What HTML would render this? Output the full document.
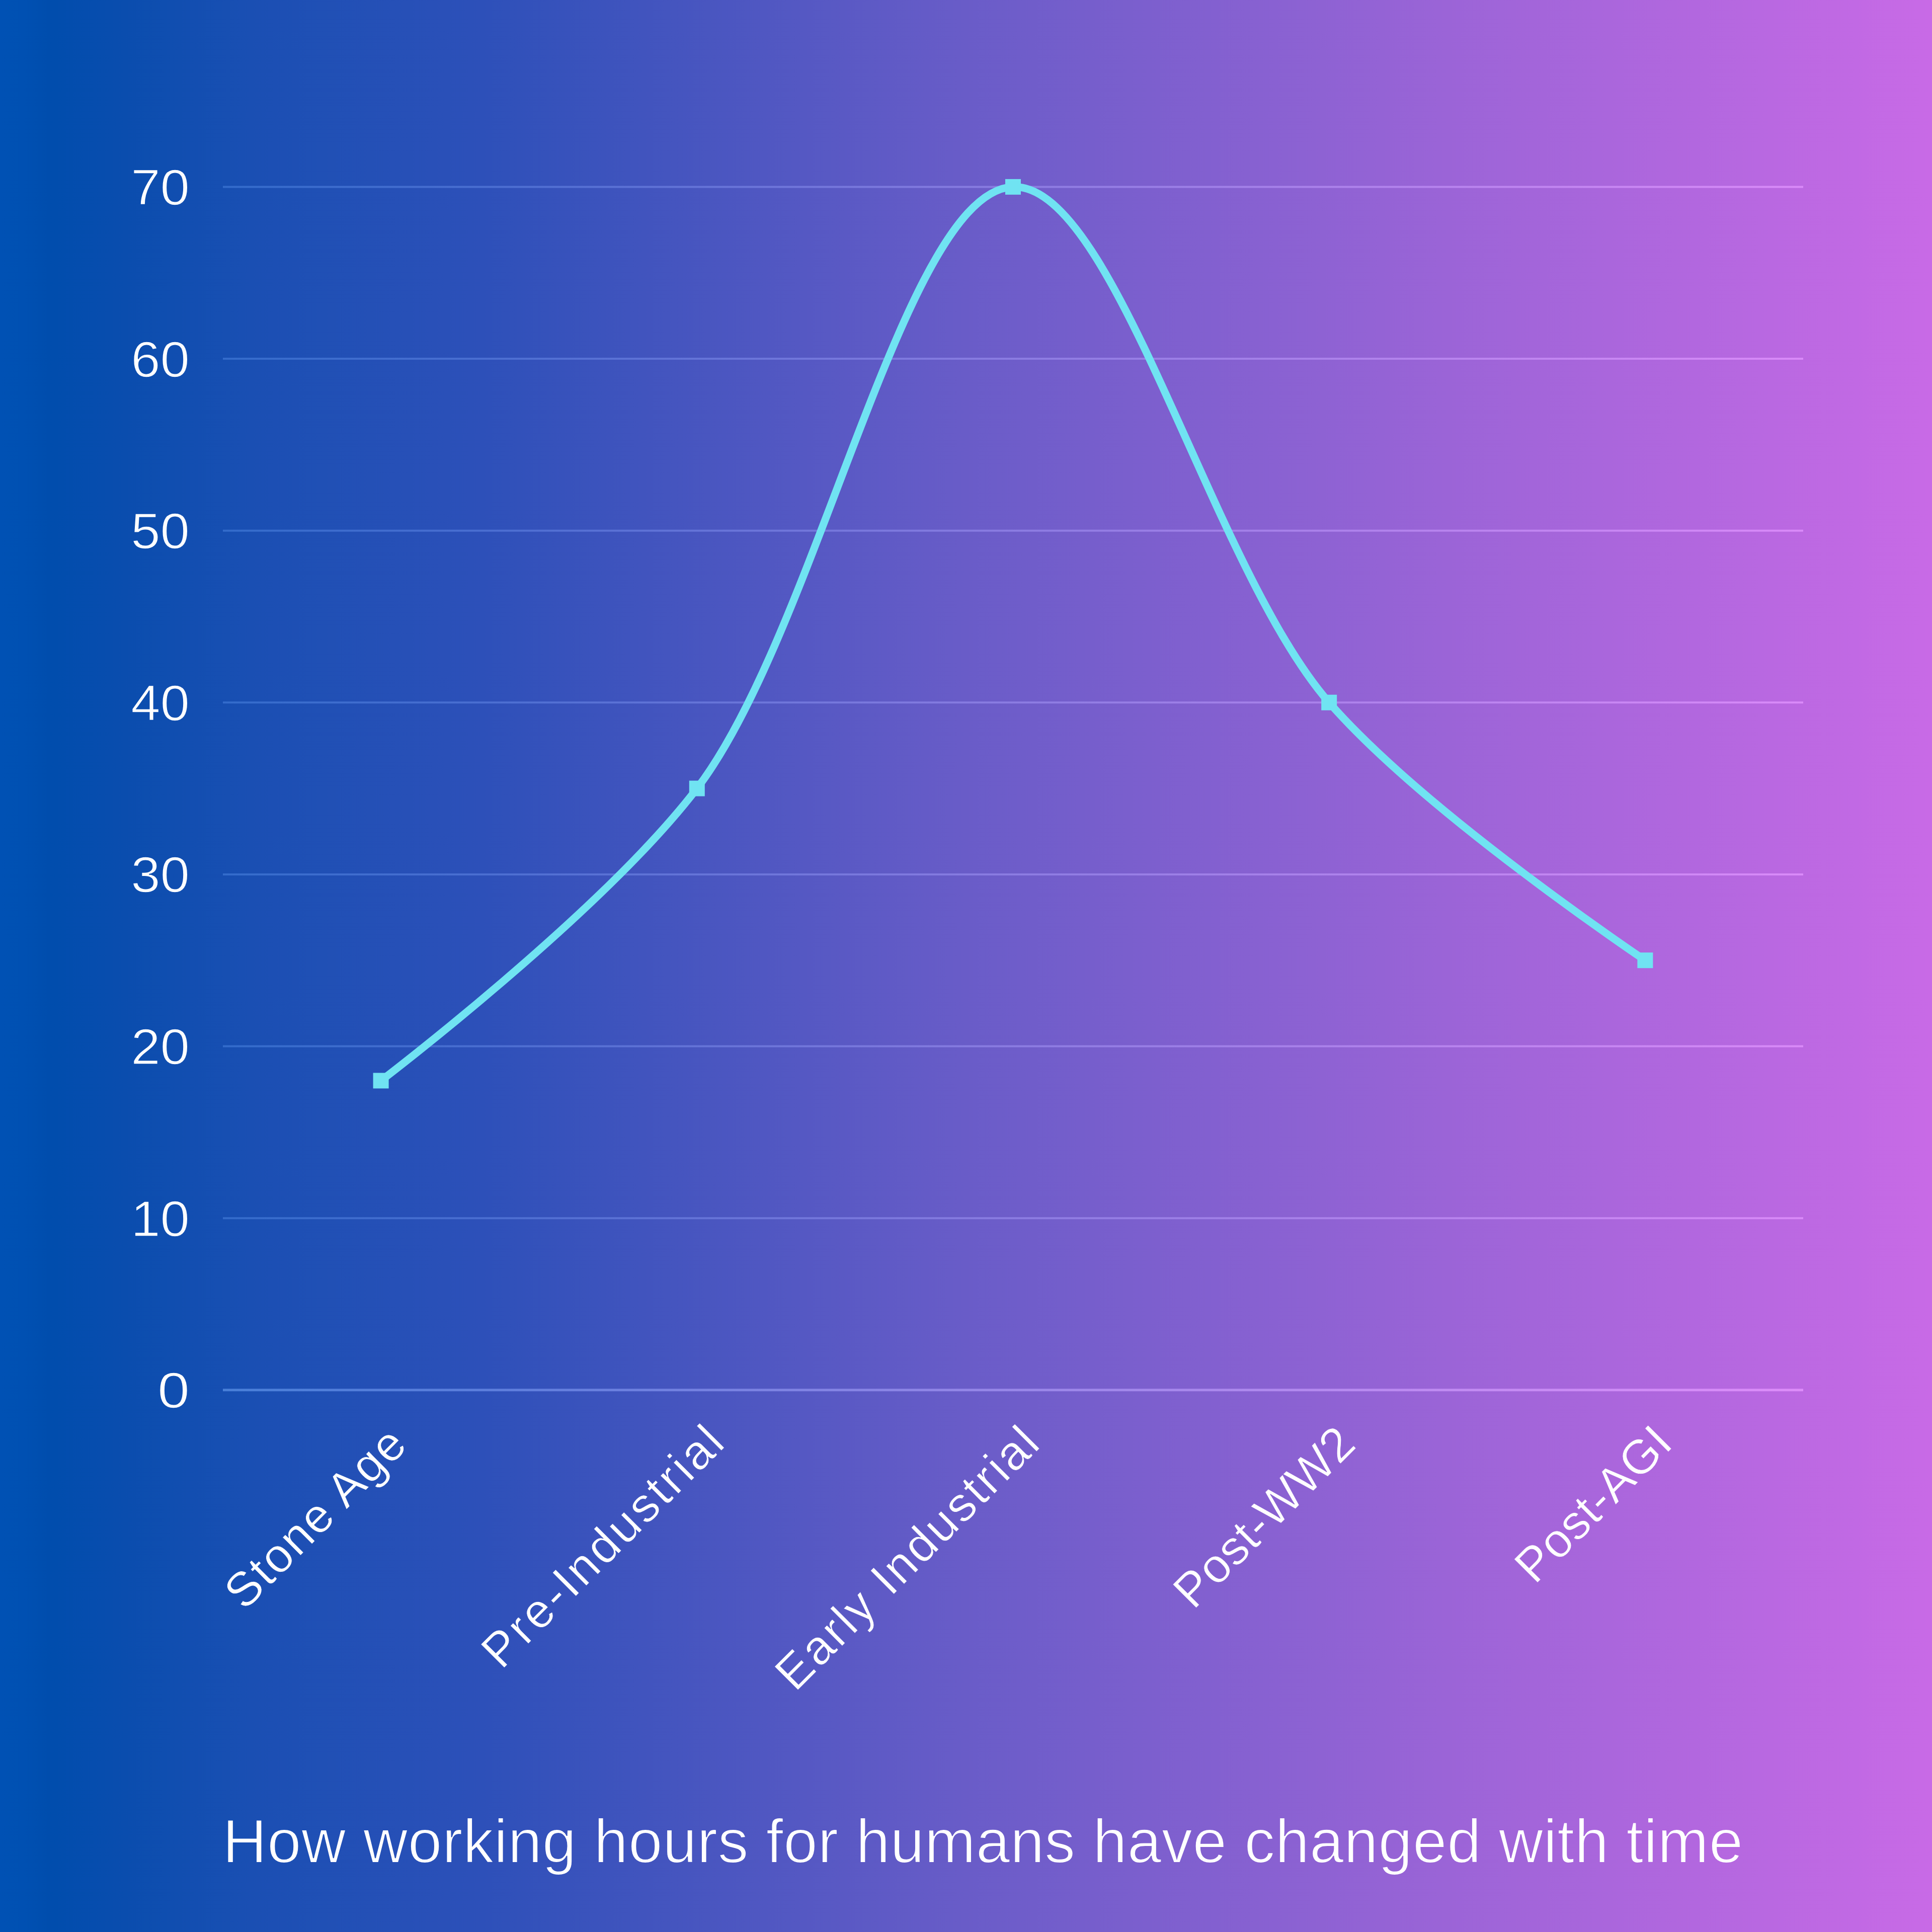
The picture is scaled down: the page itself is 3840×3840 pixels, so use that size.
<!DOCTYPE html>
<html><head><meta charset="utf-8"><style>
html,body{margin:0;padding:0;width:3840px;height:3840px;overflow:hidden;background:#6a5cc8}
svg{display:block}
text{font-family:"Liberation Sans",sans-serif;fill:#fff}
</style></head><body>
<svg width="3840" height="3840" viewBox="0 0 3840 3840">
<defs><linearGradient id="bg" x1="0" y1="0" x2="1" y2="0">
<stop offset="0" stop-color="#0051b4"/>
<stop offset="0.012" stop-color="#0050b2"/>
<stop offset="0.025" stop-color="#004dad"/>
<stop offset="0.065" stop-color="#0a4dae"/>
<stop offset="0.13" stop-color="#1a4fb3"/>
<stop offset="0.25" stop-color="#2d50b9"/>
<stop offset="0.5" stop-color="#695cc8"/>
<stop offset="0.75" stop-color="#9b64d7"/>
<stop offset="1" stop-color="#c86ae6"/>
</linearGradient>
<linearGradient id="gg" gradientUnits="userSpaceOnUse" x1="0" y1="0" x2="3840" y2="0">
<stop offset="0" stop-color="#1c6dcd"/>
<stop offset="0.012" stop-color="#1c6ccb"/>
<stop offset="0.025" stop-color="#1c69c6"/>
<stop offset="0.065" stop-color="#2669c7"/>
<stop offset="0.13" stop-color="#366ccc"/>
<stop offset="0.25" stop-color="#4a6ed1"/>
<stop offset="0.5" stop-color="#867be0"/>
<stop offset="0.75" stop-color="#b884ee"/>
<stop offset="1" stop-color="#e68cfc"/>
</linearGradient>
<linearGradient id="ga" gradientUnits="userSpaceOnUse" x1="0" y1="0" x2="3840" y2="0">
<stop offset="0" stop-color="#3483dc"/>
<stop offset="0.012" stop-color="#3482da"/>
<stop offset="0.025" stop-color="#337fd5"/>
<stop offset="0.065" stop-color="#3d7ed5"/>
<stop offset="0.13" stop-color="#4b7fd9"/>
<stop offset="0.25" stop-color="#5c7edc"/>
<stop offset="0.5" stop-color="#9386e7"/>
<stop offset="0.75" stop-color="#c08bf2"/>
<stop offset="1" stop-color="#e88dfc"/>
</linearGradient>
<linearGradient id="lg0" gradientUnits="userSpaceOnUse" x1="0" y1="0" x2="3840" y2="0" gradientTransform="rotate(45 812.7 2876.4)"><stop offset="0" stop-color="#0051b4"/><stop offset="0.012" stop-color="#0050b2"/><stop offset="0.025" stop-color="#004dad"/><stop offset="0.065" stop-color="#0a4dae"/><stop offset="0.13" stop-color="#1a4fb3"/><stop offset="0.25" stop-color="#2d50b9"/><stop offset="0.5" stop-color="#695cc8"/><stop offset="0.75" stop-color="#9b64d7"/><stop offset="1" stop-color="#c86ae6"/></linearGradient><linearGradient id="lg1" gradientUnits="userSpaceOnUse" x1="0" y1="0" x2="3840" y2="0" gradientTransform="rotate(45 1444.4 2872.9)"><stop offset="0" stop-color="#0051b4"/><stop offset="0.012" stop-color="#0050b2"/><stop offset="0.025" stop-color="#004dad"/><stop offset="0.065" stop-color="#0a4dae"/><stop offset="0.13" stop-color="#1a4fb3"/><stop offset="0.25" stop-color="#2d50b9"/><stop offset="0.5" stop-color="#695cc8"/><stop offset="0.75" stop-color="#9b64d7"/><stop offset="1" stop-color="#c86ae6"/></linearGradient><linearGradient id="lg2" gradientUnits="userSpaceOnUse" x1="0" y1="0" x2="3840" y2="0" gradientTransform="rotate(45 2070.8 2874.7)"><stop offset="0" stop-color="#0051b4"/><stop offset="0.012" stop-color="#0050b2"/><stop offset="0.025" stop-color="#004dad"/><stop offset="0.065" stop-color="#0a4dae"/><stop offset="0.13" stop-color="#1a4fb3"/><stop offset="0.25" stop-color="#2d50b9"/><stop offset="0.5" stop-color="#695cc8"/><stop offset="0.75" stop-color="#9b64d7"/><stop offset="1" stop-color="#c86ae6"/></linearGradient><linearGradient id="lg3" gradientUnits="userSpaceOnUse" x1="0" y1="0" x2="3840" y2="0" gradientTransform="rotate(45 2698.7 2875.0)"><stop offset="0" stop-color="#0051b4"/><stop offset="0.012" stop-color="#0050b2"/><stop offset="0.025" stop-color="#004dad"/><stop offset="0.065" stop-color="#0a4dae"/><stop offset="0.13" stop-color="#1a4fb3"/><stop offset="0.25" stop-color="#2d50b9"/><stop offset="0.5" stop-color="#695cc8"/><stop offset="0.75" stop-color="#9b64d7"/><stop offset="1" stop-color="#c86ae6"/></linearGradient><linearGradient id="lg4" gradientUnits="userSpaceOnUse" x1="0" y1="0" x2="3840" y2="0" gradientTransform="rotate(45 3328.7 2873.2)"><stop offset="0" stop-color="#0051b4"/><stop offset="0.012" stop-color="#0050b2"/><stop offset="0.025" stop-color="#004dad"/><stop offset="0.065" stop-color="#0a4dae"/><stop offset="0.13" stop-color="#1a4fb3"/><stop offset="0.25" stop-color="#2d50b9"/><stop offset="0.5" stop-color="#695cc8"/><stop offset="0.75" stop-color="#9b64d7"/><stop offset="1" stop-color="#c86ae6"/></linearGradient><linearGradient id="lgt" gradientUnits="userSpaceOnUse" x1="0" y1="0" x2="3840" y2="0"><stop offset="0" stop-color="#0051b4"/><stop offset="0.012" stop-color="#0050b2"/><stop offset="0.025" stop-color="#004dad"/><stop offset="0.065" stop-color="#0a4dae"/><stop offset="0.13" stop-color="#1a4fb3"/><stop offset="0.25" stop-color="#2d50b9"/><stop offset="0.5" stop-color="#695cc8"/><stop offset="0.75" stop-color="#9b64d7"/><stop offset="1" stop-color="#c86ae6"/></linearGradient></defs>
<rect width="3840" height="3840" fill="url(#bg)"/>
<g stroke="url(#gg)" stroke-width="4"><line x1="443.0" y1="2762.8" x2="3584.0" y2="2762.8" stroke="url(#ga)" stroke-width="5"/><line x1="443.0" y1="2421.2" x2="3584.0" y2="2421.2"/><line x1="443.0" y1="2079.5" x2="3584.0" y2="2079.5"/><line x1="443.0" y1="1737.9" x2="3584.0" y2="1737.9"/><line x1="443.0" y1="1396.3" x2="3584.0" y2="1396.3"/><line x1="443.0" y1="1054.7" x2="3584.0" y2="1054.7"/><line x1="443.0" y1="713.0" x2="3584.0" y2="713.0"/><line x1="443.0" y1="371.4" x2="3584.0" y2="371.4"/></g>
<g font-size="100" text-anchor="end" dominant-baseline="central" stroke="url(#lgt)" stroke-width="1.5"><text x="377.0" y="2763.3" textLength="63.97" lengthAdjust="spacingAndGlyphs">0</text><text x="377.0" y="2421.7" textLength="116.81" lengthAdjust="spacingAndGlyphs">10</text><text x="377.0" y="2080.0" textLength="116.81" lengthAdjust="spacingAndGlyphs">20</text><text x="377.0" y="1738.4" textLength="116.81" lengthAdjust="spacingAndGlyphs">30</text><text x="377.0" y="1396.8" textLength="116.81" lengthAdjust="spacingAndGlyphs">40</text><text x="377.0" y="1055.2" textLength="116.81" lengthAdjust="spacingAndGlyphs">50</text><text x="377.0" y="713.5" textLength="116.81" lengthAdjust="spacingAndGlyphs">60</text><text x="377.0" y="371.9" textLength="116.81" lengthAdjust="spacingAndGlyphs">70</text></g>
<path d="M757.1 2147.9 C757.1 2147.9 1194.8 1815.5 1385.3 1567.1 C1624.6 1255.0 1797.6 378.5 2013.5 371.4 C2217.1 364.7 2407.3 1128.0 2641.7 1396.3 C2834.2 1616.6 3269.9 1908.7 3269.9 1908.7" fill="none" stroke="#70e3f2" stroke-width="15" stroke-linejoin="round"/>
<g fill="#70e3f2"><rect x="741.6" y="2132.4" width="31.0" height="31.0"/><rect x="1369.8" y="1551.6" width="31.0" height="31.0"/><rect x="1998.0" y="355.9" width="31.0" height="31.0"/><rect x="2626.2" y="1380.8" width="31.0" height="31.0"/><rect x="3254.4" y="1893.2" width="31.0" height="31.0"/></g>
<g font-size="96" text-anchor="end"><text x="812.7" y="2876.4" textLength="462.2" lengthAdjust="spacing" stroke="url(#lg0)" stroke-width="1" transform="rotate(-45 812.7 2876.4)">Stone Age</text><text x="1444.4" y="2872.9" textLength="633.0" lengthAdjust="spacing" stroke="url(#lg1)" stroke-width="1" transform="rotate(-45 1444.4 2872.9)">Pre-Industrial</text><text x="2070.8" y="2874.7" textLength="693.2" lengthAdjust="spacing" stroke="url(#lg2)" stroke-width="1" transform="rotate(-45 2070.8 2874.7)">Early Industrial</text><text x="2698.7" y="2875.0" textLength="461.9" lengthAdjust="spacing" stroke="url(#lg3)" stroke-width="1" transform="rotate(-45 2698.7 2875.0)">Post-WW2</text><text x="3328.7" y="2873.2" textLength="393.4" lengthAdjust="spacing" stroke="url(#lg4)" stroke-width="1" transform="rotate(-45 3328.7 2873.2)">Post-AGI</text></g>
<text x="442.5" y="3701.5" font-size="121.5" textLength="3021.8" lengthAdjust="spacing" stroke="url(#lgt)" stroke-width="2">How working hours for humans have changed with time</text>
</svg>
</body></html>
